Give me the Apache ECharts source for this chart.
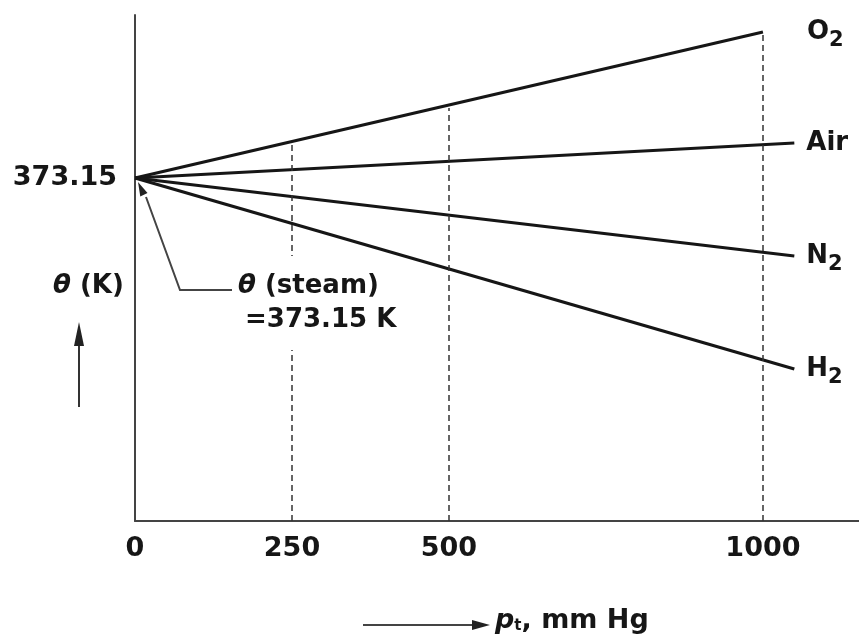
<!DOCTYPE html>
<html>
<head>
<meta charset="utf-8">
<script src="https://cdn.jsdelivr.net/npm/echarts@6/dist/echarts.min.js"></script>
<style>
html, body { margin: 0; background: #fff; }
#chart { width: 859px; height: 639px; }
</style>
</head>
<body>
<div id="chart"></div>
<script>
// gas lines, all starting from the steam point
var gases = ['O2', 'Air', 'N2', 'H2'];
var startP = 0;
var steamT = 373.15;
// end of each line (p in mm Hg, theta in K, schematic)
var endP = [1000, 1050, 1050, 1050];
var endT = [374.61, 373.50, 372.37, 371.24];
// tick labels
var xTicks = [0, 250, 500, 1000];
var yTicks = [373.15];
// dashed guides: from the p axis up to the O2 line
var guideP = [250, 500, 1000];
var guideT = [373.48, 373.85, 374.61];

var yMin = 369.72, yMax = 374.78;
var ink = '#161616';
var font = 'DejaVu Sans';

function gasLabel(name) {
    var m = name.match(/^([A-Za-z]+)(\d*)$/);
    return m[2] ? '{b|' + m[1] + '}{s|' + m[2] + '}' : '{b|' + name + '}';
}

var chart = echarts.init(document.getElementById('chart'));

var series = gases.map(function (g, i) {
    var s = {
        name: g,
        type: 'line',
        symbol: 'none',
        data: [[startP, steamT], [endP[i], endT[i]]],
        lineStyle: { color: ink, width: 3.2 },
        endLabel: {
            show: true,
            distance: endP[i] == 1000 ? 44 : 12,
            formatter: function () { return gasLabel(g); },
            rich: {
                b: { fontSize: 26, fontWeight: 'bold', fontFamily: font, color: ink },
                s: { fontSize: 21, fontWeight: 'bold', fontFamily: font, color: ink, padding: [18, 0, 0, 0] }
            }
        }
    };
    if (i == 0) {
        s.markLine = {
            silent: true,
            symbol: 'none',
            label: { show: false },
            lineStyle: { type: [6, 4], color: '#333', width: 1.5 },
            data: guideP.map(function (p, k) {
                return [{ coord: [p, yMin] }, { coord: [p, guideT[k]] }];
            })
        };
    }
    return s;
});

chart.setOption({
    animation: false,
    grid: { left: 135, right: 0, top: 15, bottom: 118, outerBoundsMode: 'none' },
    xAxis: {
        type: 'value',
        min: 0,
        max: 1153,
        axisLine: { lineStyle: { color: '#444', width: 2 } },
        axisTick: { show: false },
        splitLine: { show: false },
        axisLabel: {
            customValues: xTicks,
            formatter: function (v) { return String(v); },
            fontSize: 27,
            fontWeight: 'bold',
            fontFamily: font,
            color: ink,
            margin: 14
        }
    },
    yAxis: {
        type: 'value',
        min: yMin,
        max: yMax,
        axisLine: { show: true, lineStyle: { color: '#444', width: 2 } },
        axisTick: { show: false },
        splitLine: { show: false },
        axisLabel: {
            customValues: yTicks,
            formatter: function (v) { return v.toFixed(2); },
            fontSize: 27,
            fontWeight: 'bold',
            fontFamily: font,
            color: ink,
            margin: 18
        }
    },
    series: series
});

// annotations
var tip = chart.convertToPixel({ gridIndex: 0 }, [startP, steamT]);
var tx = tip[0] + 3, ty = tip[1] + 4;
var bold = 'bold 26px "' + font + '"';
chart.setOption({
    graphic: [
        // theta (K) with arrow
        {
            type: 'text', left: 53, top: 273, z: 10,
            style: {
                text: '{i|θ} (K)',
                font: bold, fill: ink,
                rich: { i: { fontStyle: 'italic', fontWeight: 'bold', fontSize: 26, fontFamily: font, fill: ink } }
            }
        },
        { type: 'line', z: 10, shape: { x1: 79, y1: 407, x2: 79, y2: 340 }, style: { stroke: '#333', lineWidth: 2 } },
        { type: 'polygon', z: 10, shape: { points: [[79, 322], [74, 346], [84, 346]] }, style: { fill: '#222' } },
        // steam point leader
        {
            type: 'polyline', z: 10,
            shape: { points: [[232, 290], [180, 290], [tx + 8, ty + 15]] },
            style: { stroke: '#444', lineWidth: 2, fill: null }
        },
        {
            type: 'polygon', z: 10,
            shape: { points: [[tx, ty], [tx + 9.5, ty + 11], [tx + 2.3, ty + 14.4]] },
            style: { fill: '#222' }
        },
        // the guide at 250 is broken where the note sits
        { type: 'rect', z: 5, shape: { x: 280, y: 256, width: 24, height: 94 }, style: { fill: '#fff' } },
        {
            type: 'text', left: 238, top: 273, z: 10,
            style: {
                text: '{i|θ} (steam)',
                font: bold, fill: ink,
                rich: { i: { fontStyle: 'italic', fontWeight: 'bold', fontSize: 26, fontFamily: font, fill: ink } }
            }
        },
        {
            type: 'text', left: 245, top: 307, z: 10,
            style: { text: '=373.15 K', font: bold, fill: ink }
        },
        // p axis title with arrow
        { type: 'line', z: 10, shape: { x1: 363, y1: 625, x2: 476, y2: 625 }, style: { stroke: '#444', lineWidth: 2 } },
        { type: 'polygon', z: 10, shape: { points: [[490, 625], [472, 620], [472, 630]] }, style: { fill: '#222' } },
        {
            type: 'text', left: 495, top: 607, z: 10,
            style: {
                text: '{i|p}{s|t}, mm Hg',
                font: 'bold 27px "' + font + '"', fill: ink,
                rich: {
                    i: { fontStyle: 'italic', fontWeight: 'bold', fontSize: 27, fontFamily: font, fill: ink },
                    s: { fontWeight: 'bold', fontSize: 15, fontFamily: font, fill: ink, padding: [12, 0, 0, 0] }
                }
            }
        }
    ]
});
</script>
</body>
</html>
